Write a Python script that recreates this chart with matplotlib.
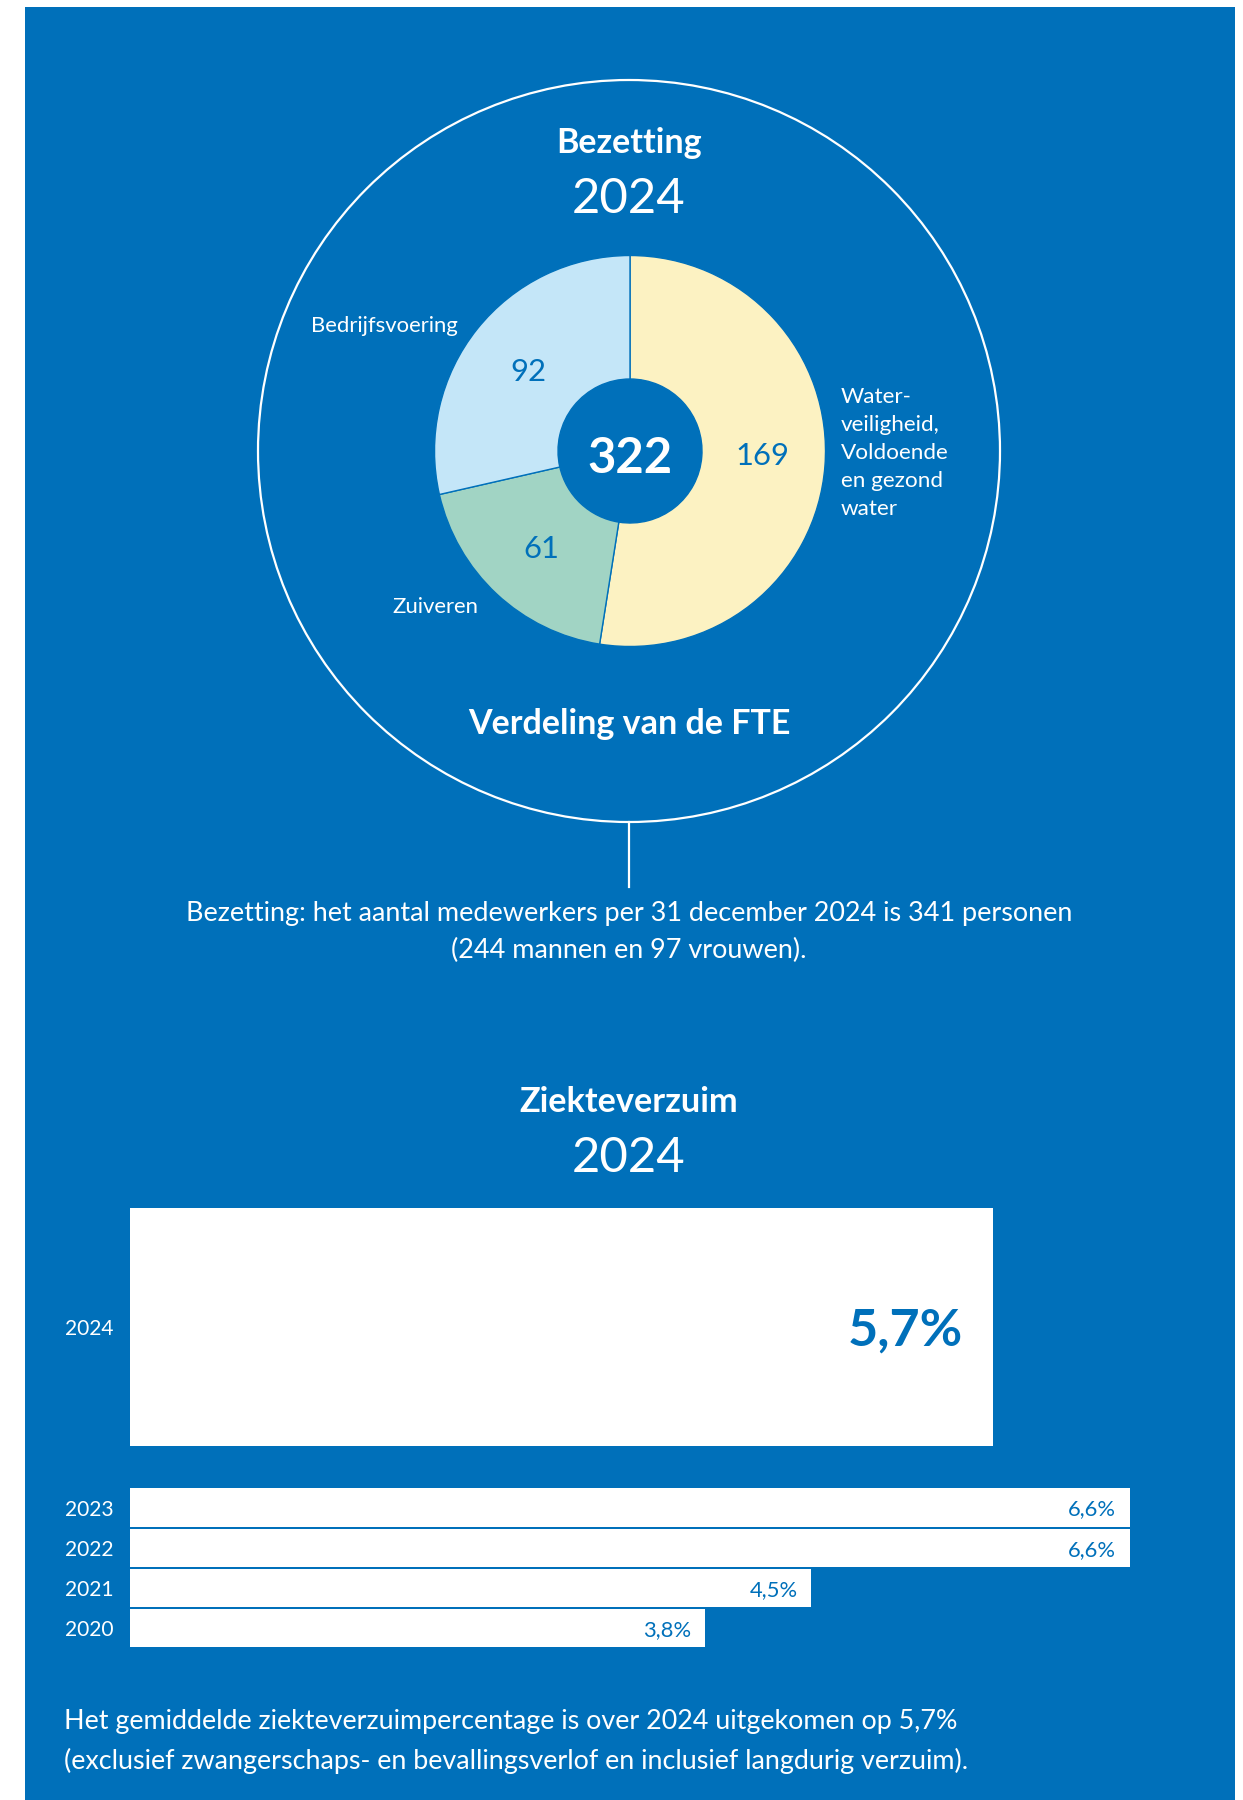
import matplotlib
matplotlib.use("Agg")
import matplotlib.pyplot as plt
from matplotlib.patches import Rectangle, Circle

plt.rcParams['font.family'] = ['Lato', 'DejaVu Sans']

# ---- data ----
fte_labels = ["Water-\nveiligheid,\nVoldoende\nen gezond\nwater", "Zuiveren", "Bedrijfsvoering"]
fte_values = [169, 61, 92]
fte_total = 322
years = ["2024", "2023", "2022", "2021", "2020"]
verzuim = [5.7, 6.6, 6.6, 4.5, 3.8]
verzuim_labels = ["5,7%", "6,6%", "6,6%", "4,5%", "3,8%"]

BLUE = "#0070BA"
YELLOW = "#FCF2C2"
LBLUE = "#C4E6F8"
GREEN = "#A1D4C4"

W, H = 1243, 1800
fig = plt.figure(figsize=(W / 100, H / 100), dpi=100)

def px(v):
    return v * 0.72

# background overlay axes in pixel coordinates
bg = fig.add_axes([0, 0, 1, 1], zorder=0)
bg.set_xlim(0, W)
bg.set_ylim(H, 0)
bg.axis("off")
bg.add_patch(Rectangle((25, 7), 1210, H, facecolor=BLUE, edgecolor="none"))
bg.add_patch(Circle((629, 451), 371, facecolor="none", edgecolor="white", lw=1.6))
bg.plot([629, 629], [822, 887], color="white", lw=1.6)

kw = dict(color="white", ha="center", va="center_baseline")
bg.text(629, 140, "Bezetting", fontsize=px(34), fontweight="bold", **kw)
bg.text(629, 195, "2024", fontsize=px(49), **kw)
bg.text(629, 721, "Verdeling van de FTE", fontsize=px(34), fontweight="bold", **kw)

bg.text(384, 324, fte_labels[2], fontsize=px(22.2), **kw)
bg.text(435, 605, fte_labels[1], fontsize=px(22.2), **kw)
bg.text(841, 453, fte_labels[0], color="white", fontsize=px(22.5), ha="left", va="center",
        linespacing=1.5)

bg.text(629, 911, "Bezetting: het aantal medewerkers per 31 december 2024 is 341 personen",
        fontsize=px(27), **kw)
bg.text(629, 948, "(244 mannen en 97 vrouwen).", fontsize=px(27), **kw)

bg.text(629, 1099, "Ziekteverzuim", fontsize=px(34.3), fontweight="bold", **kw)
bg.text(629, 1154, "2024", fontsize=px(49), **kw)

bg.text(64, 1719, "Het gemiddelde ziekteverzuimpercentage is over 2024 uitgekomen op 5,7%",
        color="white", fontsize=px(26.9), ha="left", va="center_baseline")
bg.text(64, 1758, "(exclusief zwangerschaps- en bevallingsverlof en inclusief langdurig verzuim).",
        color="white", fontsize=px(26.9), ha="left", va="center_baseline")

# ---- donut ----
cx, cy, R = 630, 451, 195.5
pa = fig.add_axes([(cx - R) / W, 1 - (cy + R) / H, 2 * R / W, 2 * R / H], zorder=2)
wedges, _, autotexts = pa.pie(
    fte_values, colors=[YELLOW, GREEN, LBLUE], startangle=90, counterclock=False,
    wedgeprops=dict(width=1 - 72 / R, edgecolor=BLUE, linewidth=1.0),
    autopct=lambda p: f"{round(p * sum(fte_values) / 100)}", pctdistance=0.665,
    textprops=dict(color=BLUE, fontsize=px(31)))
for t in autotexts:
    t.set_va("center_baseline")
autotexts[0].set_position((0.675, -0.012))
pa.text(0, -0.02, str(fte_total), color="white", fontsize=px(49), fontweight="bold",
        ha="center", va="center_baseline")
pa.set_xlim(-1, 1)
pa.set_ylim(-1, 1)
pa.axis("off")

# ---- bars ----
bx0, bx1, by0, by1 = 130, 1129.5, 1208, 1647
ba = fig.add_axes([bx0 / W, 1 - by1 / H, (bx1 - bx0) / W, (by1 - by0) / H], zorder=2)
tops = [0, 280, 321, 361, 401]
heights = [238, 39, 38, 38, 38]
centers = [t + h / 2 for t, h in zip(tops, heights)]
ba.barh(centers, verzuim, height=heights, color="white", edgecolor="none")
ba.set_xlim(0, 6.6)
ba.set_ylim(by1 - by0, 0)
ba.set_yticks(centers, labels=years)
ba.tick_params(axis="y", length=0, pad=px(16), labelcolor="white", labelsize=px(21))
ba.set_xticks([])
for s in ba.spines.values():
    s.set_visible(False)
ba.patch.set_visible(False)
for i, (v, c, lab) in enumerate(zip(verzuim, centers, verzuim_labels)):
    if i == 0:
        ba.annotate(lab, xy=(v, c), xytext=(-px(30), 0), textcoords="offset points",
                    ha="right", va="center_baseline", color=BLUE, fontsize=px(52), fontweight="bold")
    else:
        ba.annotate(lab, xy=(v, c), xytext=(-px(14), 0), textcoords="offset points",
                    ha="right", va="center_baseline", color=BLUE, fontsize=px(22))

fig.savefig("out.png", dpi=100, facecolor="white")
